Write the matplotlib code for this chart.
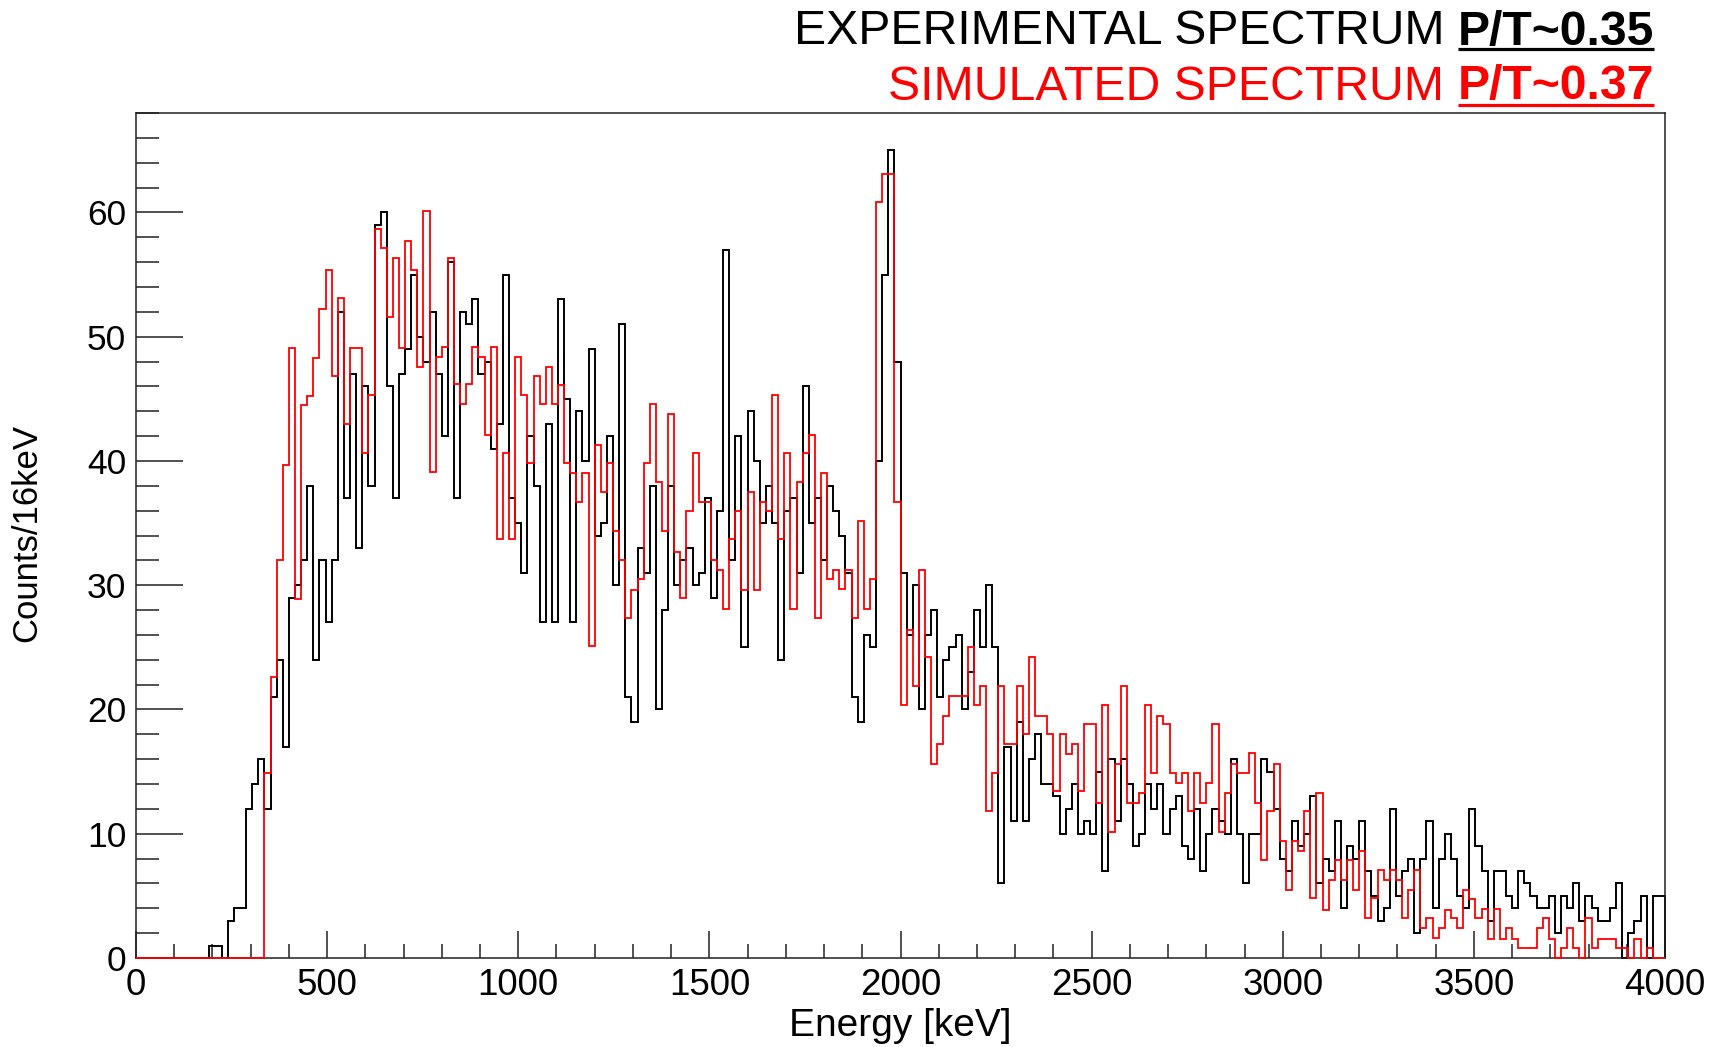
import numpy as np
import matplotlib
matplotlib.use("Agg")
import matplotlib.pyplot as plt
from matplotlib.lines import Line2D
from matplotlib.ticker import MultipleLocator

plt.rcParams['font.family'] = ['Liberation Sans', 'DejaVu Sans']

# 16 keV bins from 0 to 4000 keV
bin_width_kev = 16
n_bins = 250

experimental_counts = [
    0, 0, 0, 0, 0, 0, 0, 0, 0, 0, 0, 0, 1, 1, 0, 3, 4, 4, 12, 14,
    16, 12, 21, 24, 17, 29, 30, 32, 38, 24, 32, 27, 32, 52, 37, 47, 33, 46, 38, 59,
    60, 46, 37, 47, 49, 55, 50, 48, 52, 47, 42, 56, 37, 52, 51, 53, 47, 48, 41, 43,
    55, 37, 35, 31, 42, 38, 27, 43, 27, 53, 45, 27, 44, 40, 49, 34, 35, 42, 30, 51,
    21, 19, 33, 31, 38, 20, 28, 38, 30, 32, 33, 30, 31, 37, 29, 36, 57, 32, 42, 25,
    44, 40, 35, 38, 35, 24, 36, 37, 31, 46, 35, 37, 32, 38, 36, 34, 31, 21, 19, 26,
    25, 40, 55, 65, 48, 31, 26, 30, 20, 26, 28, 21, 24, 25, 26, 20, 23, 28, 25, 30,
    25, 6, 17, 11, 19, 11, 16, 18, 14, 14, 13, 10, 12, 14, 10, 11, 10, 15, 7, 16,
    11, 16, 14, 9, 10, 14, 12, 14, 10, 12, 13, 9, 8, 12, 7, 10, 12, 11, 10, 16,
    10, 6, 10, 10, 16, 15, 12, 8, 7, 11, 9, 10, 13, 6, 8, 7, 11, 4, 9, 8,
    11, 7, 5, 3, 4, 12, 5, 7, 8, 2, 8, 11, 4, 8, 10, 8, 5, 4, 12, 9,
    7, 3, 7, 7, 5, 4, 7, 6, 5, 4, 4, 5, 2, 5, 4, 6, 3, 5, 4, 3,
    3, 4, 6, 0, 2, 3, 5, 0, 5, 5,
]

simulated_counts = [
    0, 0, 0, 0, 0, 0, 0, 0, 0, 0, 0, 0, 0, 0, 0, 0, 0, 0, 0, 0,
    0, 14.9, 22.6, 32.0, 39.7, 49.1, 28.9, 44.5, 45.2, 48.3,
    52.2, 55.4, 46.8, 53.1, 43.0, 49.1, 49.1, 40.6, 45.3, 58.7,
    57.1, 51.6, 56.3, 49.1, 57.7, 55.4, 47.6, 60.1, 39.1, 48.4,
    49.2, 56.3, 46.2, 44.6, 46.2, 49.2, 48.4, 42.1, 49.2, 33.7,
    40.6, 33.7, 48.4, 45.3, 39.8, 46.8, 44.6, 47.6, 44.6, 46.1,
    39.8, 39.0, 36.7, 39.0, 25.1, 41.3, 37.5, 39.8, 34.4, 32.0,
    27.4, 29.6, 30.5, 39.8, 44.6, 38.3, 34.4, 43.8, 32.7, 29.0,
    36.0, 40.6, 36.7, 36.7, 32.0, 31.2, 28.1, 33.7, 36.0, 29.6,
    37.5, 29.6, 36.7, 36.0, 45.3, 33.7, 40.6, 28.1, 38.3, 40.6,
    42.1, 27.4, 39.0, 30.5, 31.2, 29.7, 31.2, 27.4, 35.2, 28.1,
    30.5, 60.8, 63.1, 63.1, 36.7, 20.4, 26.4, 21.9, 31.2, 24.2,
    15.6, 17.2, 19.5, 21.1, 21.1, 21.1, 25.0, 20.4, 21.9, 11.8,
    14.9, 21.9, 17.2, 17.2, 21.9, 18.0, 24.2, 19.5, 19.5, 18.0,
    13.4, 18.0, 16.4, 17.2, 13.4, 18.8, 18.8, 12.5, 20.4, 10.1,
    15.6, 21.9, 12.5, 12.5, 13.3, 20.4, 14.9, 19.5, 18.8, 14.9,
    14.1, 14.9, 11.8, 14.9, 12.5, 14.1, 18.8, 10.1, 13.3, 15.6,
    14.9, 14.9, 16.5, 12.5, 7.9, 11.8, 15.6, 9.4, 5.5, 9.4,
    8.6, 11.8, 4.8, 13.3, 3.9, 6.3, 7.9, 6.3, 7.9, 5.5,
    8.6, 3.2, 4.8, 7.1, 6.3, 7.1, 6.3, 3.2, 5.5, 7.1,
    2.4, 3.2, 1.6, 2.4, 3.9, 3.2, 2.4, 5.5, 4.75, 3.25,
    3.95, 1.55, 3.95, 1.55, 2.4, 1.55, 0.8, 0.8, 0.8, 2.4,
    3.2, 1.55, 0, 0.8, 2.4, 0.8, 0, 3.2, 0.8, 1.55,
    1.55, 1.55, 0.8, 0.8, 0, 1.55, 0, 0.8, 0, 0,
]

x_ticks = [0, 500, 1000, 1500, 2000, 2500, 3000, 3500, 4000]
y_ticks = [0, 10, 20, 30, 40, 50, 60]

title_lines = [
    ("EXPERIMENTAL SPECTRUM ", "P/T~0.35", "black"),
    ("SIMULATED SPECTRUM ", "P/T~0.37", "red"),
]

W, H = 1723, 1047
fig = plt.figure(figsize=(W / 100, H / 100), dpi=100)
ax = fig.add_axes([136 / W, 89 / H, 1529 / W, 845 / H])

edges = np.arange(n_bins + 1) * bin_width_kev
ax.stairs(experimental_counts, edges, color='black', lw=1.4, clip_on=False, zorder=2)
ax.stairs(simulated_counts, edges, color='#ff0000', lw=1.3, clip_on=False, zorder=3)

ax.set_xlim(0, 4000)
ax.set_ylim(0, 68)
ax.set_xticks(x_ticks)
ax.set_xticklabels([str(v) for v in x_ticks])
ax.set_yticks(y_ticks)
ax.set_yticklabels([str(v) for v in y_ticks])
ax.xaxis.set_minor_locator(MultipleLocator(100))
ax.yaxis.set_minor_locator(MultipleLocator(2))

ax.tick_params(axis='both', which='both', direction='in', top=False, right=False,
               width=1.1, color='#222222')
ax.tick_params(axis='x', which='major', length=19.5, pad=7, labelsize=26.5)
ax.tick_params(axis='x', which='minor', length=10)
ax.tick_params(axis='y', which='major', length=33.5, pad=7, labelsize=25.5)
ax.tick_params(axis='y', which='minor', length=16.8)
for sp in ax.spines.values():
    sp.set_linewidth(1.1)
    sp.set_color('#222222')

# axis titles, centred on the frame
fig.text((136 + 1665) / 2 / W, 1 - 1036 / H, "Energy [keV]", ha='center',
         va='baseline', fontsize=28)
fig.text(27 / W, 1 - 533 / H, "Counts/16keV", rotation=90, ha='center',
         va='center', fontsize=25)

# two-line header: plain label followed by a bold, underlined ratio
fig.canvas.draw()
renderer = fig.canvas.get_renderer()
right_edge = 1654 / W
baselines = [1 - 44.5 / H, 1 - 99.5 / H]
for (plain, ratio, col), yb in zip(title_lines, baselines):
    tb = fig.text(right_edge, yb, ratio, ha='right', va='baseline', fontsize=34.7,
                  fontweight='bold', color=col)
    bb = tb.get_window_extent(renderer)
    x0 = bb.x0 / fig.bbox.width
    fig.text(x0, yb, plain, ha='right', va='baseline', fontsize=34.7, color=col)
    uy = yb - 5 / H
    fig.add_artist(Line2D([x0, right_edge], [uy, uy], transform=fig.transFigure,
                          color=col, lw=2.3, solid_capstyle='butt'))

fig.savefig("out.png", dpi=100)
